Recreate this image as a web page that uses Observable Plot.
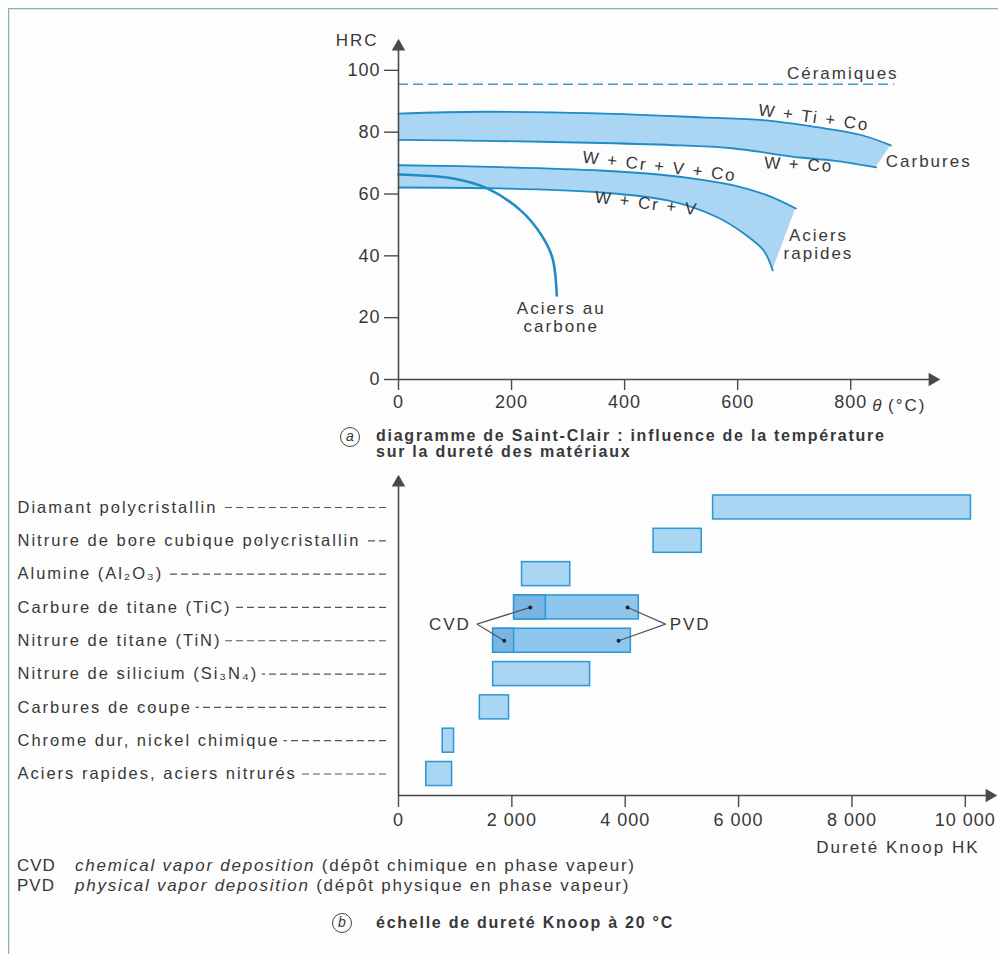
<!DOCTYPE html>
<html><head><meta charset="utf-8">
<script src="https://cdn.jsdelivr.net/npm/d3@7"></script>
<script src="https://cdn.jsdelivr.net/npm/@observablehq/plot@0.6"></script>
<style>
html,body{margin:0;padding:0;background:#fdfdfd;}
#page{position:relative;width:998px;height:954px;overflow:hidden;font-family:"Liberation Sans",Arial,sans-serif;color:#383838;}
#frame{position:absolute;left:8px;top:8px;width:1000px;height:960px;border-top:1.5px solid #93abb0;border-left:1.5px solid #93abb0;box-shadow:inset 1px 1px 0 #d4f0f8;}
.abs{position:absolute;}
.cap{font-weight:bold;font-size:16px;letter-spacing:1.75px;line-height:16px;white-space:nowrap;}
.circ{position:absolute;width:18px;height:18px;border:1.3px solid #444;border-radius:50%;text-align:center;font-style:italic;font-weight:normal;line-height:17px;font-size:14px;}
.foot{font-size:17px;letter-spacing:1.75px;line-height:20px;white-space:nowrap;}
.foot span.k{display:inline-block;width:58px;letter-spacing:1px;}
.foot i{font-style:italic;}
#topchart g[aria-label="text"] text{letter-spacing:2px;}
#botchart g[aria-label="text"] text{letter-spacing:2px;}
</style></head>
<body><div id="page"><div id="frame"></div>
<div id="topchart" class="abs" style="left:0;top:0"></div>
<div class="circ" style="left:340px;top:427px">a</div>
<div class="abs cap" style="left:376px;top:428px">diagramme de Saint-Clair : influence de la température<br>sur la dureté des matériaux</div>
<div id="botchart" class="abs" style="left:0;top:470px"></div>
<div class="abs foot" style="left:17px;top:856px"><span class="k">CVD</span><i>chemical vapor deposition</i> (dépôt chimique en phase vapeur)</div>
<div class="abs foot" style="left:17px;top:876px"><span class="k">PVD</span><i>physical vapor deposition</i> (dépôt physique en phase vapeur)</div>
<div class="circ" style="left:332px;top:913px">b</div>
<div class="abs cap" style="left:376px;top:915px">échelle de dureté Knoop à 20 °C</div>
</div>
<script>
// ---------- (a) Saint-Clair diagram data ----------
const tempTicks = [0, 200, 400, 600, 800];
const hrcTicks = [0, 20, 40, 60, 80, 100];
// Carbures band: W+Ti+Co (upper) and W+Co (lower)
const carbTopT = [0, 150, 350, 535, 650, 740, 820, 871];
const carbTopH = [86, 86.6, 86.1, 84.8, 83.8, 81.6, 79, 75.7];
const carbBotT = [0, 150, 360, 500, 590, 710, 770, 845];
const carbBotH = [77.5, 77.2, 76.5, 75.7, 74.8, 71.8, 70.8, 68.6];
// Aciers rapides band: W+Cr+V+Co (upper) and W+Cr+V (lower)
const rapTopT = [0, 180, 357, 460, 540, 600, 655, 703];
const rapTopH = [69.3, 68.7, 67.6, 66.3, 64.5, 62.5, 59.4, 55.3];
const rapBotT = [0, 180, 357, 476, 565, 611, 646, 662];
const rapBotH = [62.1, 61.8, 60.5, 57.9, 52.4, 47.2, 41.7, 35.3];
// Aciers au carbone
const carbonT = [0, 40, 97, 157, 216, 251, 272, 280];
const carbonH = [66.3, 66, 65, 61.8, 54.7, 47.2, 39.5, 27.2];
// Céramiques
const ceramT = [0, 876];
const ceramH = [95.5, 95.5];

// ---------- (b) Knoop scale data ----------
const materials = ["Diamant polycristallin", "Nitrure de bore cubique polycristallin", "Alumine (Al₂O₃)",
  "Carbure de titane (TiC)", "Nitrure de titane (TiN)", "Nitrure de silicium (Si₃N₄)",
  "Carbures de coupe", "Chrome dur, nickel chimique", "Aciers rapides, aciers nitrurés"];
const hkLow  = [5550, 4500, 2180, 2040, 1670, 1670, 1435, 780, 490];
const hkHigh = [10100, 5350, 3030, 4240, 4100, 3380, 1950, 980, 945];
const coatedMaterials = ["Carbure de titane (TiC)", "Nitrure de titane (TiN)"];
const cvdPvdSplit = [2600, 2040];
const cvdDot = [2325, 1866];
const pvdDot = [4042, 3883];
const hkTicks = [0, 2000, 4000, 6000, 8000, 10000];

// ---------- helpers ----------
const pts = (T, H) => T.map((t, i) => ({t, h: H[i]}));
const band = (T1, H1, T2, H2) => T1.map((t, i) => ({t1: t, h1: H1[i], t2: T2[i], h2: H2[i]}));
const fillLight = "#aad6f4", curveCol = "#1f8cc5", axisCol = "#4a4a4a", textCol = "#383838";
const baseStyle = {fontFamily: "Liberation Sans, Arial, sans-serif", fontSize: "18px", color: textCol,
  background: "transparent", letterSpacing: "1px", overflow: "visible"};

// ---------- chart (a) ----------
const topLabels = [
  {text: "Céramiques", t: 786, h: 98.9, r: 0},
  {text: "W + Ti + Co", t: 735, h: 84.8, r: 8},
  {text: "W + Co", t: 708, h: 69.6, r: 3},
  {text: "Carbures", t: 938, h: 70.6, r: 0},
  {text: "W + Cr + V + Co", t: 462, h: 69, r: 7},
  {text: "W + Cr + V", t: 439, h: 57, r: 7},
  {text: "Aciers\nrapides", t: 743, h: 43.7, r: 0},
  {text: "Aciers au\ncarbone", t: 288, h: 20, r: 0}
];
const chartA = Plot.plot({
  width: 998, height: 420,
  marginLeft: 398, marginRight: 63, marginTop: 42, marginBottom: 41,
  x: {domain: [0, 950], label: null},
  y: {domain: [0, 109], label: null},
  style: baseStyle,
  marks: [
    Plot.area(band(carbTopT, carbTopH, carbBotT, carbBotH), {x1: "t1", y1: "h1", x2: "t2", y2: "h2", fill: fillLight, curve: "catmull-rom"}),
    Plot.area(band(rapTopT, rapTopH, rapBotT, rapBotH), {x1: "t1", y1: "h1", x2: "t2", y2: "h2", fill: fillLight, curve: "catmull-rom"}),
    Plot.line(pts(carbTopT, carbTopH), {x: "t", y: "h", stroke: curveCol, strokeWidth: 1.8, curve: "catmull-rom"}),
    Plot.line(pts(carbBotT, carbBotH), {x: "t", y: "h", stroke: curveCol, strokeWidth: 1.8, curve: "catmull-rom"}),
    Plot.line(pts(rapTopT, rapTopH), {x: "t", y: "h", stroke: curveCol, strokeWidth: 1.8, curve: "catmull-rom"}),
    Plot.line(pts(rapBotT, rapBotH), {x: "t", y: "h", stroke: curveCol, strokeWidth: 1.8, curve: "catmull-rom"}),
    Plot.line(pts(carbonT, carbonH), {x: "t", y: "h", stroke: curveCol, strokeWidth: 2.6, curve: "catmull-rom"}),
    Plot.line(pts(ceramT, ceramH), {x: "t", y: "h", stroke: "#3b9bd3", strokeWidth: 1.3, strokeDasharray: "9,6"}),
    Plot.ruleX([0], {stroke: axisCol, strokeWidth: 1.6}),
    Plot.ruleY([0], {stroke: axisCol, strokeWidth: 1.6}),
    Plot.dot([0], {x: d => d, frameAnchor: "top", symbol: "triangle", r: 5, fill: axisCol, dy: 4}),
    Plot.dot([0], {y: d => d, frameAnchor: "right", symbol: "triangle", rotate: 90, r: 5, fill: axisCol, dx: -3}),
    Plot.axisX({ticks: tempTicks, tickSize: 11, tickPadding: 5, fontSize: 18, stroke: axisCol, strokeWidth: 1.4, label: null}),
    Plot.axisY({ticks: hrcTicks, tickSize: 14, tickPadding: 4, fontSize: 18, stroke: axisCol, strokeWidth: 1.4, label: null}),
    Plot.text(topLabels, {x: "t", y: "h", text: "text", rotate: "r", fontSize: 17, lineHeight: 1.05, fill: textCol}),
    Plot.text(["HRC"], {text: d => d, frameAnchor: "top-left", textAnchor: "end", lineAnchor: "middle", dx: -20, dy: -2, fontSize: 17, fill: textCol}),
    Plot.text(["θ"], {text: d => d, frameAnchor: "bottom-right", textAnchor: "end", lineAnchor: "middle", dx: -52, dy: 26, fontSize: 17, fontStyle: "italic", fill: textCol}),
    Plot.text(["(°C)"], {text: d => d, frameAnchor: "bottom-right", textAnchor: "end", lineAnchor: "middle", dx: -9, dy: 26, fontSize: 17, fill: textCol})
  ]
});
document.getElementById("topchart").append(chartA);

// ---------- chart (b) ----------
const nRows = materials.length;
const rows = materials.map((name, k) => ({name, i: nRows - 1 - k, lo: hkLow[k], hi: hkHigh[k]}));
const rowOf = name => rows.find(r => r.name === name);
const plainRows = rows.filter(r => !coatedMaterials.includes(r.name));
const coatRows = coatedMaterials.map((name, j) => ({...rowOf(name), split: cvdPvdSplit[j], cvd: cvdDot[j], pvd: pvdDot[j]}));
const yMin = -0.645, half = 0.36;
const midY = (coatRows[0].i + coatRows[1].i) / 2;
const cvdVertexHK = 1382, pvdVertexHK = 4713;
const cvdLinks = coatRows.map(r => ({x1: cvdVertexHK, y1: midY, x2: r.cvd, y2: r.i}));
const pvdLinks = coatRows.map(r => ({x1: pvdVertexHK, y1: midY, x2: r.pvd, y2: r.i}));
const barStroke = "#2c97d0";
const fmtHK = d => d3.format(",")(d).replace(/,/g, " ");

const chartB = Plot.plot({
  width: 998, height: 390,
  marginLeft: 398, marginRight: 6, marginTop: 8, marginBottom: 65,
  x: {domain: [0, 10480], label: null},
  y: {domain: [yMin, 8.87], label: null},
  style: baseStyle,
  marks: [
    Plot.axisY({ticks: rows.map(r => r.i), tickSize: 369, dx: -12, tickFormat: () => "", stroke: "#555", strokeWidth: 1.2, strokeDasharray: "7,4", label: null}),
    Plot.text(rows, {y: "i", text: "name", frameAnchor: "left", textAnchor: "start", dx: -381, fontSize: 16.5,
      fill: textCol, stroke: "#fdfdfd", strokeWidth: 13, paintOrder: "stroke"}),
    Plot.rect(plainRows, {x1: "lo", x2: "hi", y1: d => d.i - half, y2: d => d.i + half, fill: fillLight, stroke: barStroke, strokeWidth: 1.5}),
    Plot.rect(coatRows, {x1: "lo", x2: "hi", y1: d => d.i - half, y2: d => d.i + half, fill: "#8fc6ee", stroke: barStroke, strokeWidth: 1.5}),
    Plot.rect(coatRows, {x1: "lo", x2: "split", y1: d => d.i - half, y2: d => d.i + half, fill: "#78b5e4", stroke: barStroke, strokeWidth: 1.5}),
    Plot.link(cvdLinks.concat(pvdLinks), {x1: "x1", y1: "y1", x2: "x2", y2: "y2", stroke: "#555", strokeWidth: 1.2}),
    Plot.dot(coatRows, {x: "cvd", y: "i", r: 2, fill: "#222"}),
    Plot.dot(coatRows, {x: "pvd", y: "i", r: 2, fill: "#222"}),
    Plot.text(["CVD"], {x: cvdVertexHK, y: midY, text: d => d, textAnchor: "end", dx: -6, fontSize: 17, fill: textCol}),
    Plot.text(["PVD"], {x: pvdVertexHK, y: midY, text: d => d, textAnchor: "start", dx: 4, fontSize: 17, fill: textCol}),
    Plot.ruleX([0], {stroke: axisCol, strokeWidth: 1.6}),
    Plot.ruleY([yMin], {stroke: axisCol, strokeWidth: 1.6}),
    Plot.dot([0], {x: d => d, frameAnchor: "top", symbol: "triangle", r: 5, fill: axisCol, dy: 4}),
    Plot.dot([yMin], {y: d => d, frameAnchor: "right", symbol: "triangle", rotate: 90, r: 5, fill: axisCol, dx: -3}),
    Plot.axisX({ticks: hkTicks, tickSize: 12, tickPadding: 6, tickFormat: fmtHK, fontSize: 18, stroke: axisCol, strokeWidth: 1.4, label: null}),
    Plot.text(["Dureté Knoop HK"], {text: d => d, frameAnchor: "bottom-right", textAnchor: "end", lineAnchor: "middle", dx: -13, dy: 52, fontSize: 17, fill: textCol})
  ]
});
document.getElementById("botchart").append(chartB);
</script>
</body></html>
